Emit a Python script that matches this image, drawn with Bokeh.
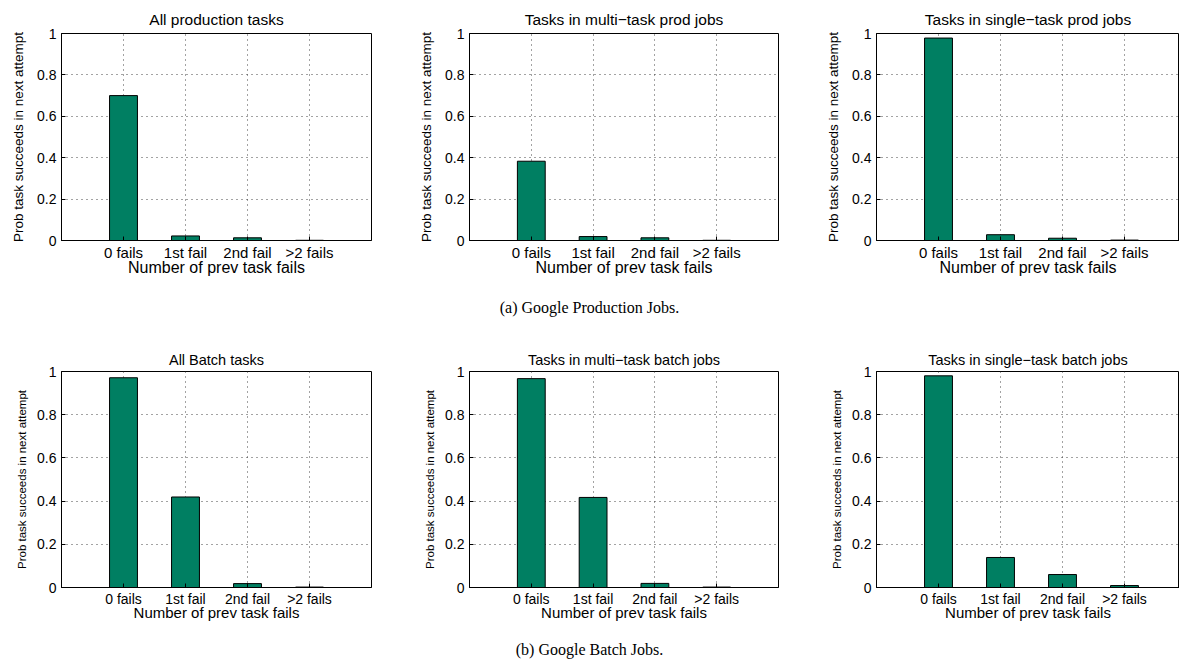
from bokeh.plotting import figure
from bokeh.models import Range1d, FixedTicker, ColumnDataSource, Div
from bokeh.layouts import row, column
from bokeh.embed import file_html
from bokeh.resources import INLINE

# ---------------- data ----------------
categories = ["0 fails", "1st fail", "2nd fail", ">2 fails"]
prod_all = [0.70, 0.022, 0.013, 0.001]
prod_multi = [0.383, 0.019, 0.013, 0.001]
prod_single = [0.978, 0.028, 0.011, 0.002]
batch_all = [0.971, 0.419, 0.018, 0.002]
batch_multi = [0.967, 0.417, 0.019, 0.002]
batch_single = [0.98, 0.139, 0.06, 0.009]
y_ticks = [0, 0.2, 0.4, 0.6, 0.8, 1]
y_tick_labels = ["0", "0.2", "0.4", "0.6", "0.8", "1"]
titles_top = ["All production tasks", "Tasks in multi\u2212task prod jobs", "Tasks in single\u2212task prod jobs"]
titles_bottom = ["All Batch tasks", "Tasks in multi\u2212task batch jobs", "Tasks in single\u2212task batch jobs"]
caption_a = "(a) Google Production Jobs."
caption_b = "(b) Google Batch Jobs."
x_label = "Number of prev task fails"
y_label = "Prob task succeeds in next attempt"

BAR = "#007F62"
FONT = "Liberation Sans"
SERIF = "Liberation Serif"


def make_panel(title, vals, width, height, bl, br, bt, bb, x_end, st):
    pos = list(range(1, len(categories) + 1))
    src = ColumnDataSource(dict(x=pos, top=vals, cat=categories))
    p = figure(width=width, height=height, x_range=Range1d(0, x_end),
               y_range=Range1d(0, 1), output_backend="svg", toolbar_location=None,
               min_border_left=bl, min_border_right=br, min_border_top=bt,
               min_border_bottom=bb, title=title)
    p.vbar(x="x", top="top", width=0.45, source=src, fill_color=BAR,
           line_color="black", line_width=1)
    p.title.align = "center"
    p.title.text_font = FONT
    p.title.text_font_style = "normal"
    p.title.text_font_size = f"{st['title']}px"
    p.title.text_color = "black"
    p.title.standoff = st["title_standoff"]

    p.xaxis.ticker = FixedTicker(ticks=pos)
    p.xaxis.major_label_overrides = {k: c for k, c in zip(pos, categories)}
    p.yaxis.ticker = FixedTicker(ticks=y_ticks)
    p.yaxis.major_label_overrides = {k: s for k, s in zip(y_ticks, y_tick_labels)}
    p.xgrid.ticker = FixedTicker(ticks=pos)
    p.ygrid.ticker = FixedTicker(ticks=y_ticks)
    for g in (p.xgrid, p.ygrid):
        g.grid_line_color = "#333333"
        g.grid_line_dash = "1 4"
        g.grid_line_width = 1
        g.grid_line_alpha = 0.9

    for ax in (p.xaxis, p.yaxis):
        ax.axis_line_color = "black"
        ax.major_tick_line_color = "black"
        ax.major_tick_in = 4
        ax.major_tick_out = 0
        ax.minor_tick_line_color = None
        ax.major_label_text_font = FONT
        ax.major_label_text_color = "black"
        ax.axis_label_text_font = FONT
        ax.axis_label_text_font_style = "normal"
        ax.axis_label_text_color = "black"
    p.xaxis.major_label_text_font_size = f"{st['xtick']}px"
    p.yaxis.major_label_text_font_size = f"{st['ytick']}px"
    p.xaxis.axis_label = x_label
    p.xaxis.axis_label_text_font_size = f"{st['xlabel']}px"
    p.xaxis.major_label_standoff = 3
    p.xaxis.axis_label_standoff = st["xlabel_standoff"]
    p.yaxis.axis_label = y_label
    p.yaxis.axis_label_text_font_size = f"{st['ylabel']}px"
    p.yaxis.major_label_standoff = 5
    p.yaxis.axis_label_standoff = st["ylabel_standoff"]

    p.outline_line_color = "black"
    p.outline_line_alpha = 1
    p.outline_line_width = 1
    p.background_fill_color = "white"
    p.border_fill_color = "white"
    return p


top_style = dict(title=15.5, title_standoff=12, xtick=15, ytick=14, xlabel=16,
                 xlabel_standoff=-5, ylabel=13.5, ylabel_standoff=8)
bot_style = dict(title=14.5, title_standoff=7, xtick=14, ytick=14, xlabel=15,
                 xlabel_standoff=-6, ylabel=11.5, ylabel_standoff=6)

# top row: frames y 33..240
p1 = make_panel(titles_top[0], prod_all, 408, 290, 61, 37, 33, 50, 5, top_style)
p2 = make_panel(titles_top[1], prod_multi, 390, 290, 61, 20, 33, 50, 5, top_style)
p3 = make_panel(titles_top[2], prod_single, 381, 290, 78, 0, 33, 50, 303 / 62, top_style)

# bottom row: frames y 371..587
p4 = make_panel(titles_bottom[0], batch_all, 408, 309, 61, 37, 45, 48, 5, bot_style)
p5 = make_panel(titles_bottom[1], batch_multi, 390, 309, 61, 20, 45, 48, 5, bot_style)
p6 = make_panel(titles_bottom[2], batch_single, 381, 309, 78, 0, 45, 48, 303 / 62, bot_style)

cap_a = Div(text=caption_a, width=1179, height=36, margin=(0, 0, 0, 0),
            styles={"text-align": "center", "line-height": "36px",
                    "font-family": SERIF, "font-size": "16px", "color": "black"})
cap_b = Div(text=caption_b, width=1179, height=30, margin=(0, 0, 0, 0),
            styles={"text-align": "center", "line-height": "30px",
                    "font-family": SERIF, "font-size": "16px", "color": "black"})

layout = column(row(p1, p2, p3), cap_a, row(p4, p5, p6), cap_b)
open("out.html", "w").write(file_html(layout, INLINE))
